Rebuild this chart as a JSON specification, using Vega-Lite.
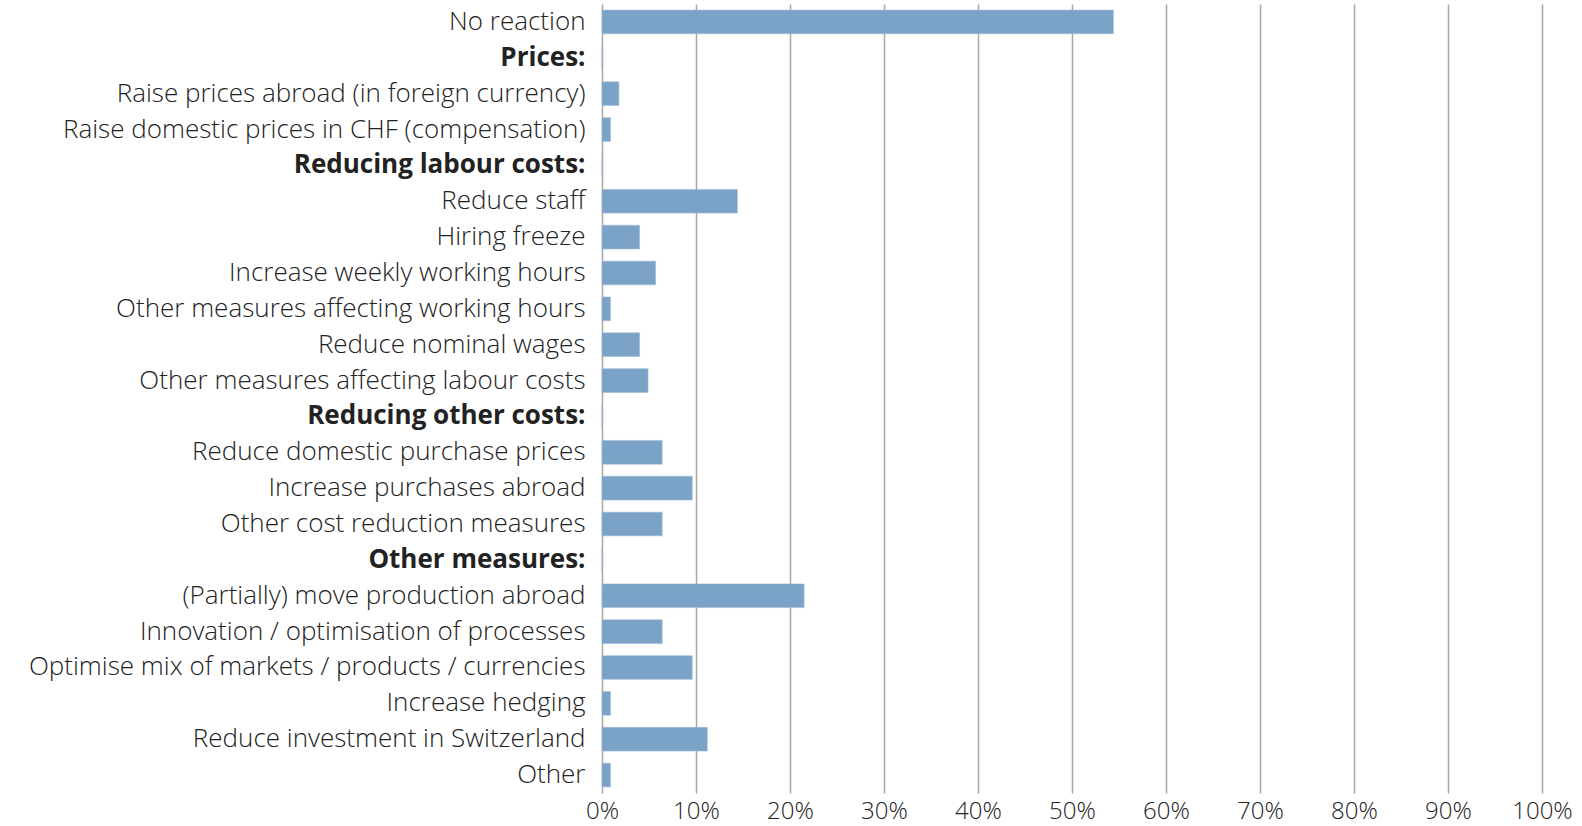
{
  "$schema": "https://vega.github.io/schema/vega-lite/v6.json",
  "autosize": "none",
  "width": 940,
  "height": 789,
  "padding": {"left": 602, "top": 4, "right": 40, "bottom": 33},
  "background": "white",
  "data": {
    "values": [
      {"label": "No reaction", "value": 54.4},
      {"label": "Prices:", "value": 0},
      {"label": "Raise prices abroad (in foreign currency)", "value": 1.8},
      {"label": "Raise domestic prices in CHF (compensation)", "value": 0.9},
      {"label": "Reducing labour costs:", "value": 0},
      {"label": "Reduce staff", "value": 14.4},
      {"label": "Hiring freeze", "value": 4.0},
      {"label": "Increase weekly working hours", "value": 5.7},
      {"label": "Other measures affecting working hours", "value": 0.9},
      {"label": "Reduce nominal wages", "value": 4.0},
      {"label": "Other measures affecting labour costs", "value": 4.9},
      {"label": "Reducing other costs:", "value": 0},
      {"label": "Reduce domestic purchase prices", "value": 6.4},
      {"label": "Increase purchases abroad", "value": 9.6},
      {"label": "Other cost reduction measures", "value": 6.4},
      {"label": "Other measures:", "value": 0},
      {"label": "(Partially) move production abroad", "value": 21.5},
      {"label": "Innovation / optimisation of processes", "value": 6.4},
      {"label": "Optimise mix of markets / products / currencies", "value": 9.6},
      {"label": "Increase hedging", "value": 0.9},
      {"label": "Reduce investment in Switzerland", "value": 11.2},
      {"label": "Other", "value": 0.9}
    ]
  },
  "mark": {"type": "bar", "color": "#7BA2C7", "stroke": "#9DBBD8", "strokeWidth": 0.6},
  "encoding": {
    "y": {
      "field": "label",
      "type": "nominal",
      "sort": null,
      "title": null,
      "scale": {"paddingInner": 0.34, "paddingOuter": 0.17},
      "axis": {
        "domain": false,
        "ticks": false,
        "grid": false,
        "labelPadding": 17,
        "labelLimit": 0,
        "labelFont": "Open Sans",
        "labelFontSize": 26,
        "labelColor": "#222222",
        "labelFontWeight": {
          "condition": {"test": "indexof(['Prices:', 'Reducing labour costs:', 'Reducing other costs:', 'Other measures:'], datum.value) >= 0", "value": "bold"},
          "value": 300
        }
      }
    },
    "x": {
      "field": "value",
      "type": "quantitative",
      "title": null,
      "scale": {"domain": [0, 100], "nice": false},
      "axis": {
        "values": [0, 10, 20, 30, 40, 50, 60, 70, 80, 90, 100],
        "labelExpr": "datum.value + '%'",
        "domain": false,
        "ticks": false,
        "grid": true,
        "gridColor": "#A6A6A6",
        "gridWidth": 1.5,
        "labelPadding": 6,
        "labelFont": "Open Sans",
        "labelFontSize": 24,
        "labelFontWeight": 300,
        "labelColor": "#222222",
        "labelFlush": false
      }
    }
  },
  "config": {"view": {"stroke": null}}
}
